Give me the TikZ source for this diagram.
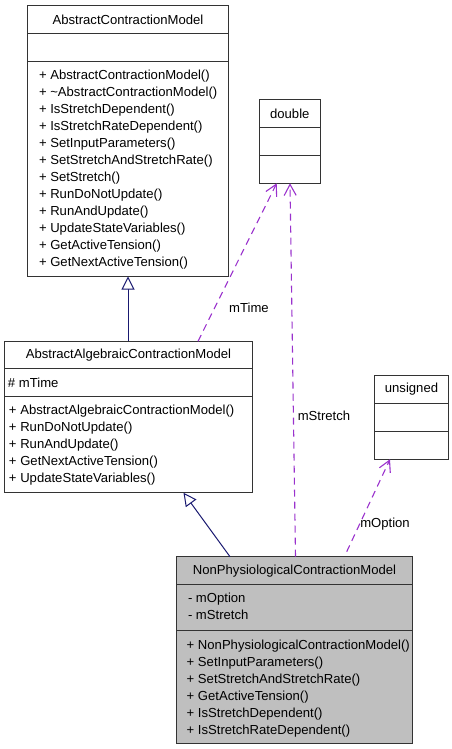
\documentclass[tikz,border=0pt]{standalone}
\usepackage{fontspec}
\setmainfont{Liberation Sans}
\usetikzlibrary{arrows.meta,calc}
\definecolor{dep}{HTML}{9A32CD}
\definecolor{inh}{HTML}{191970}
\definecolor{gfill}{HTML}{BFBFBF}
\tikzset{
  x=1pt,y=-1pt,
  classbox/.style={draw=black!80, line width=1pt, inner sep=0pt, outer sep=0pt, anchor=north west, fill=white},
  divider/.style={draw=black!80, line width=1pt},
  txt/.style={inner sep=0pt, outer sep=0pt, font=\fontsize{13.1}{15}\selectfont, anchor=west},
  ttl/.style={inner sep=0pt, outer sep=0pt, font=\fontsize{13.1}{15}\selectfont},
  inherit/.style={draw=inh, line width=1pt, -{Triangle[open, length=13pt, width=13pt, fill=white]}},
  depend/.style={draw=dep, line width=1.1pt, dash pattern=on 7pt off 5pt, -{Straight Barb[length=11pt, width=12pt]}},
  lbl/.style={inner sep=0pt, font=\fontsize{13.1}{15}\selectfont},
}
\begin{document}
\begin{tikzpicture}
\useasboundingbox (0,0) rectangle (452,749);

% AbstractContractionModel
\node[classbox, minimum width=200.5, minimum height=270.5] (acm) at (27.5,6) {};
\draw[divider] ($(acm.north west)+(0,28)$) -- ($(acm.north east)+(0,28)$);
\draw[divider] ($(acm.north west)+(0,56)$) -- ($(acm.north east)+(0,56)$);
\node[ttl] (acmt) at (128,20) {AbstractContractionModel};
\node[txt] (a1) at (39,76) {+ AbstractContractionModel()};
\node[txt] (a2) at (39,93) {+ \char"7E AbstractContractionModel()};
\node[txt] (a3) at (39,110) {+ IsStretchDependent()};
\node[txt] (a4) at (39,127) {+ IsStretchRateDependent()};
\node[txt] (a5) at (39,144) {+ SetInputParameters()};
\node[txt] (a6) at (39,161) {+ SetStretchAndStretchRate()};
\node[txt] (a7) at (39,178) {+ SetStretch()};
\node[txt] (a8) at (39,195) {+ RunDoNotUpdate()};
\node[txt] (a9) at (39,212) {+ RunAndUpdate()};
\node[txt] (a10) at (39,229) {+ UpdateStateVariables()};
\node[txt] (a11) at (39,246) {+ GetActiveTension()};
\node[txt] (a12) at (39,263) {+ GetNextActiveTension()};

% double
\node[classbox, minimum width=61, minimum height=84] (dbl) at (259.3,99.3) {};
\draw[divider] ($(dbl.north west)+(0,28)$) -- ($(dbl.north east)+(0,28)$);
\draw[divider] ($(dbl.north west)+(0,56)$) -- ($(dbl.north east)+(0,56)$);
\node[ttl] (dblt) at (289.8,113.5) {double};

% AbstractAlgebraicContractionModel
\node[classbox, minimum width=247.5, minimum height=151.5] (alg) at (4.7,341.3) {};
\draw[divider] ($(alg.north west)+(0,27.5)$) -- ($(alg.north east)+(0,27.5)$);
\draw[divider] ($(alg.north west)+(0,55.5)$) -- ($(alg.north east)+(0,55.5)$);
\node[ttl] (algt) at (128.5,355) {AbstractAlgebraicContractionModel};
\node[txt] (b0) at (8,383) {\# mTime};
\node[txt] (b1) at (9,411) {+ AbstractAlgebraicContractionModel()};
\node[txt] (b2) at (9,428) {+ RunDoNotUpdate()};
\node[txt] (b3) at (9,445) {+ RunAndUpdate()};
\node[txt] (b4) at (9,462) {+ GetNextActiveTension()};
\node[txt] (b5) at (9,479) {+ UpdateStateVariables()};

% unsigned
\node[classbox, minimum width=73.5, minimum height=84] (uns) at (374.7,375.3) {};
\draw[divider] ($(uns.north west)+(0,28)$) -- ($(uns.north east)+(0,28)$);
\draw[divider] ($(uns.north west)+(0,56)$) -- ($(uns.north east)+(0,56)$);
\node[ttl] (unst) at (411.5,389.5) {unsigned};

% NonPhysiologicalContractionModel
\node[classbox, fill=gfill, minimum width=235.5, minimum height=186.7] (np) at (176.7,556.7) {};
\draw[divider] ($(np.north west)+(0,27.5)$) -- ($(np.north east)+(0,27.5)$);
\draw[divider] ($(np.north west)+(0,73.5)$) -- ($(np.north east)+(0,73.5)$);
\node[ttl] (npt) at (294.5,571) {NonPhysiologicalContractionModel};
\node[txt] (c0) at (188,599) {- mOption};
\node[txt] (c00) at (188,615) {- mStretch};
\node[txt] (c1) at (186.7,646) {+ NonPhysiologicalContractionModel()};
\node[txt] (c2) at (186.7,663) {+ SetInputParameters()};
\node[txt] (c3) at (186.7,680) {+ SetStretchAndStretchRate()};
\node[txt] (c4) at (186.7,697) {+ GetActiveTension()};
\node[txt] (c5) at (186.7,714) {+ IsStretchDependent()};
\node[txt] (c6) at (186.7,731) {+ IsStretchRateDependent()};

% connectors
\draw[inherit] ($(alg.north west)+(123.3,0)$) -- ($(acm.south west)+(100.5,0)$);
\draw[inherit] ($(np.north west)+(53.3,0)$) -- ($(alg.south west)+(178.8,0)$);
\draw[depend] ($(alg.north west)+(193.3,0)$) -- ($(dbl.south west)+(17.4,0)$);
\draw[depend] ($(np.north west)+(118.8,0)$) -- ($(dbl.south west)+(30.7,0)$);
\draw[depend] ($(np.north west)+(170,-5)$) -- ($(uns.south west)+(15.3,0)$);
\node[lbl] (lt) at (249,308) {mTime};
\node[lbl] (ls) at (324,416) {mStretch};
\node[lbl] (lo) at (385,524) {mOption};
\end{tikzpicture}
\end{document}
